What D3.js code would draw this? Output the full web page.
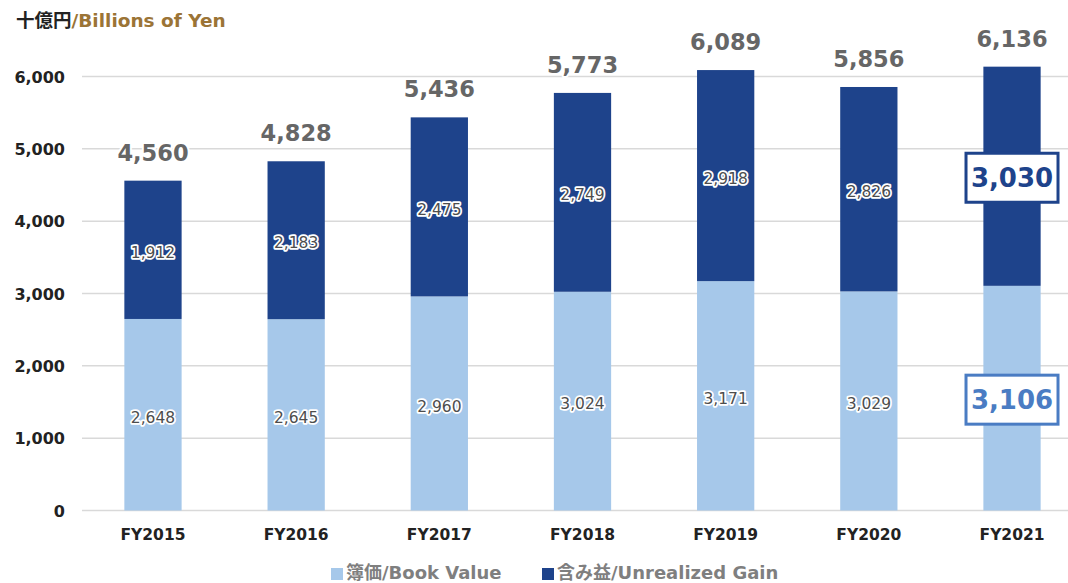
<!DOCTYPE html>
<html><head><meta charset="utf-8">
<script src="https://cdn.jsdelivr.net/npm/d3@7"></script>
<style>
html,body{margin:0;padding:0;background:#fff;}
svg{display:block;font-family:"DejaVu Sans","Noto Sans CJK JP",sans-serif;}
</style></head>
<body>
<svg id="c" width="1068" height="583"></svg>
<script>
const categories = ["FY2015","FY2016","FY2017","FY2018","FY2019","FY2020","FY2021"];
const bookValue = [2648, 2645, 2960, 3024, 3171, 3029, 3106];
const unrealizedGain = [1912, 2183, 2475, 2749, 2918, 2826, 3030];
const totals = [4560, 4828, 5436, 5773, 6089, 5856, 6136];
const yTicks = [0, 1000, 2000, 3000, 4000, 5000, 6000];
const seriesNames = ["簿価/Book Value", "含み益/Unrealized Gain"];
const colors = ["#a6c8ea", "#1e438b"];

const svg = d3.select("#c");
const x = d3.scaleBand().domain(categories).range([81.4, 1083.6]).padding(0);
const y = d3.scaleLinear().domain([0, 6000]).range([510.5, 76.5]);
const barW = x.bandwidth() * 0.4;
const fmt = d3.format(",");

// title
const t = svg.append("text").attr("x", 16).attr("y", 27).attr("font-size", 18.5).attr("font-weight", "bold");
t.append("tspan").attr("fill", "#222").text("十億円");
t.append("tspan").attr("fill", "#9b7436").text("/Billions of Yen");

// gridlines
svg.append("g").selectAll("line").data(yTicks).join("line")
  .attr("x1", 82).attr("x2", 1068)
  .attr("y1", d => y(d)).attr("y2", d => y(d))
  .attr("stroke", "#d9d9d9").attr("stroke-width", 1.5);

// y axis labels
const yAxis = d3.axisLeft(y).tickValues(yTicks).tickFormat(fmt).tickSize(0).tickPadding(0);
const ya = svg.append("g").attr("transform", "translate(65,0)").call(yAxis);
ya.select(".domain").remove();
ya.selectAll("text").attr("font-size", 16).attr("font-weight", "bold").attr("fill", "#222")
  .attr("font-family", "DejaVu Sans").attr("dy", "0.36em");

// x axis labels
const xAxis = d3.axisBottom(x).tickSize(0).tickPadding(0);
const xa = svg.append("g").attr("transform", "translate(0,529)").call(xAxis);
xa.select(".domain").remove();
xa.selectAll("text").attr("font-size", 15.5).attr("font-weight", "bold").attr("fill", "#222")
  .attr("font-family", "DejaVu Sans").attr("dy", "0.72em");

const cx = d => x(d) + x.bandwidth() / 2;

// bars
const g = svg.append("g");
categories.forEach((c, i) => {
  g.append("rect").attr("x", cx(c) - barW / 2).attr("width", barW)
    .attr("y", y(bookValue[i])).attr("height", y(0) - y(bookValue[i])).attr("fill", colors[0]);
  g.append("rect").attr("x", cx(c) - barW / 2).attr("width", barW)
    .attr("y", y(bookValue[i] + unrealizedGain[i])).attr("height", y(bookValue[i]) - y(bookValue[i] + unrealizedGain[i]))
    .attr("fill", colors[1]);
});

// segment labels
const last = categories.length - 1;
categories.forEach((c, i) => {
  const mids = [bookValue[i] / 2, bookValue[i] + unrealizedGain[i] / 2];
  const vals = [bookValue[i], unrealizedGain[i]];
  if (i !== last) {
    mids.forEach((m, k) => {
      svg.append("text").attr("x", cx(c)).attr("y", y(m) + 2.5).attr("dy", "0.36em")
        .attr("text-anchor", "middle").attr("font-size", 15.5)
        .attr("fill", "#4d4d4d").attr("stroke", "#fff").attr("stroke-width", 3.5)
        .attr("stroke-linejoin", "round").attr("paint-order", "stroke")
        .text(fmt(vals[k]));
    });
  } else {
    const boxCols = ["#4a7cc3", "#1e438b"];
    mids.forEach((m, k) => {
      const bw = 92, bh = 49;
      svg.append("rect").attr("x", cx(c) - bw / 2).attr("y", y(m) - bh / 2 + 1.5)
        .attr("width", bw).attr("height", bh).attr("fill", "#fff")
        .attr("stroke", boxCols[k]).attr("stroke-width", 3);
      svg.append("text").attr("x", cx(c)).attr("y", y(m) + 1.5).attr("dy", "0.36em")
        .attr("text-anchor", "middle").attr("font-size", 26).attr("font-weight", "bold")
        .attr("fill", boxCols[k]).text(fmt(vals[k]));
    });
  }
  // total label
  svg.append("text").attr("x", cx(c)).attr("y", y(totals[i]) - 20)
    .attr("text-anchor", "middle").attr("font-size", 22.5).attr("font-weight", "bold")
    .attr("fill", "#666").attr("stroke", "#fff").attr("stroke-width", 4)
    .attr("stroke-linejoin", "round").attr("paint-order", "stroke")
    .text(fmt(totals[i]));
});

// legend
const lg = svg.append("g");
const legendX = [331, 542];
seriesNames.forEach((n, k) => {
  lg.append("rect").attr("x", legendX[k]).attr("y", 568).attr("width", 12).attr("height", 12).attr("fill", colors[k]);
  lg.append("text").attr("x", legendX[k] + 15).attr("y", 579).attr("font-size", 18).attr("font-weight", "bold")
    .attr("fill", "#7f7f7f").text(n);
});
</script>
</body></html>
